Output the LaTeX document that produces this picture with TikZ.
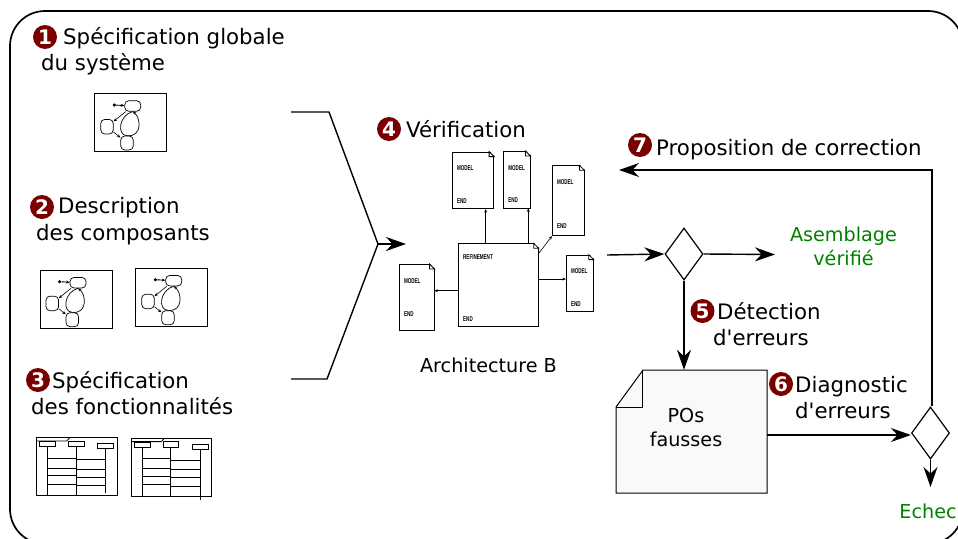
\documentclass[tikz,border=0pt]{standalone}
\usepackage{fontspec}
\setmainfont{DejaVu Sans}
\newfontfamily\tinyfont[FakeStretch=0.65]{Liberation Sans}
\usetikzlibrary{arrows.meta,shapes.geometric,fit}

\begin{document}
\begin{tikzpicture}[x=1pt,y=-1pt]
    % colours of the figure
    \definecolor{badgeRed}{RGB}{122,0,0}
    \definecolor{okGreen}{RGB}{0,128,0}
    \definecolor{paper}{RGB}{249,249,249}
    \tikzstyle{every node}=[font=\fontsize{19.2}{24}\selectfont, text=black]
    \tikzstyle{caption}=[anchor=base west, inner sep=0pt, font=\fontsize{21.3}{26}\selectfont]
    \tikzstyle{numdot}=[circle, fill=badgeRed, minimum size=24pt, inner sep=0pt, text=white, font=\fontsize{20}{20}\selectfont\bfseries]
    \tikzstyle{decision}=[diamond, draw, line width=1.2pt, fill=white, aspect=0.73, minimum width=38pt, minimum height=52pt, inner sep=0pt]
    \tikzstyle{flow}=[line width=1.4pt, -{Stealth[length=20pt,width=14pt]}]
    \tikzstyle{docpage}=[draw, line width=0.8pt, fill=white, inner sep=0pt]
    \tikzstyle{doctext}=[inner sep=0pt, anchor=west, font=\tinyfont\fontsize{7}{8}\selectfont\bfseries]
    \tikzstyle{docarrow}=[line width=0.6pt, -{Stealth[length=3.5pt,width=3pt]}]
    \tikzstyle{frameBox}=[draw, line width=1pt, inner sep=0pt, fill=white]
    \tikzstyle{state}=[draw, line width=0.7pt, rounded corners=4pt, inner sep=0pt]
    \tikzstyle{head}=[draw, line width=0.8pt, inner sep=0pt]

    \clip (0,0) rectangle (958,538);

    % outer frame
    \draw[line width=1.7pt, rounded corners=35pt] (10,11) rectangle (963,544);

    % numbered badges
    \foreach \n/\x/\y in {1/45/37,2/42/207,3/38/380,4/389/129,5/702.5/311,6/781/384,7/640/145}{
      \node[numdot] (num\n) at (\x,\y) {\n};
    }

    % step captions
    \node[caption] (globalA) at (63,44) {Spécification globale};
    \node[caption] (globalB) at (41,70) {du système};
    \node[caption] (compA) at (58,213) {Description};
    \node[caption] (compB) at (36,240) {des composants};
    \node[caption] (funcA) at (52,388) {Spécification};
    \node[caption] (funcB) at (31,414) {des fonctionnalités};
    \node[caption] (verif) at (406,137.5) {Vérification};
    \node[caption] (propo) at (656,155) {Proposition de correction};
    \node[caption] (detA) at (717,319) {Détection};
    \node[caption] (detB) at (713,345) {d\textquotesingle erreurs};
    \node[caption] (diagA) at (795,392.5) {Diagnostic};
    \node[caption] (diagB) at (795,418.5) {d\textquotesingle erreurs};
    \node[inner sep=0pt] (archi) at (488.5,365) {Architecture B};
    \node[align=center, text=okGreen] (assembled) at (843.5,246) {Asemblage\\vérifié};
    \node[text=okGreen] (echec) at (928,511) {Echec};

    % small state charts
    \foreach \k/\bx/\by in {a/94.7/93.3,b/40/270,c/135.7/268}{
      \begin{scope}[shift={(\bx,\by)}]
        \node[frameBox, fit={(0,0) (72,58)}] (chart\k) {};
        \node[state, minimum width=16pt, minimum height=10.5pt] (top\k) at (38,12.7) {};
        \node[state, minimum width=12.5pt, minimum height=14.5pt] (left\k) at (12.3,33.4) {};
        \node[state, minimum width=12.5pt, minimum height=14pt] (low\k) at (32.3,49.7) {};
        \node[circle, fill, minimum size=3.5pt, inner sep=0pt] (init\k) at (19.6,11.7) {};
        \draw[docarrow, line width=0.9pt] (init\k) -- (top\k);
        \draw[docarrow] (top\k) -- (left\k);
        \draw[docarrow] (left\k) -- (low\k);
        \draw[docarrow, line width=0.7pt] (low\k.north) .. controls (48,44) and (46,24) .. (top\k.south);
        \draw[line width=0.7pt] (low\k.north) .. controls (22,42) and (24,22) .. (top\k.south);
      \end{scope}
    }

    % small sequence charts
    \foreach \k/\bx/\by/\last in {a/36.7/437.7/55,b/131.3/438.3/62}{
      \begin{scope}[shift={(\bx,\by)}]
        \node[frameBox, fit={(0,0) (80.5,58)}] (seq\k) {};
        \draw[line width=0.8pt] (0,3.3) -- (30,3.3) -- (33,0);
        \node[head, fill=white, minimum width=16pt, minimum height=4.6pt] (headA\k) at (11,6.3) {};
        \node[head, fill=white, minimum width=15.5pt, minimum height=5.6pt] (headB\k) at (39.5,6.3) {};
        \node[head, fill=white, minimum width=16pt, minimum height=5pt] (headC\k) at (69,8.5) {};
        \draw[line width=1pt] (headA\k) -- (headA\k |- 0,58);
        \draw[line width=1pt] (headB\k) -- (headB\k |- 0,58);
        \draw[line width=1pt] (headC\k) -- (headC\k |- 0,\last);
        \foreach \y in {20.6,30.6,38,46.3}{
          \draw[line width=0.9pt] (11,\y) -- (39.5,\y);
        }
        \foreach \y in {22,31.3,39.6,48}{
          \draw[line width=0.9pt] (39.5,\y) -- (69,\y);
        }
      \end{scope}
    }

    % B machines, with a folded corner
    \node[docpage, fit={(458.3,243.7) (538.3,326)}] (refine) {};
    \fill[white] ([xshift=-5pt,yshift=1pt]refine.north east) -- ([xshift=1pt,yshift=1pt]refine.north east) -- ([xshift=1pt,yshift=-5pt]refine.north east) -- cycle;
    \draw[docpage] ([xshift=-5pt]refine.north east) -- ([xshift=-5pt,yshift=-5pt]refine.north east) -- ([yshift=-5pt]refine.north east) -- cycle;
    \node[doctext] (refineTop) at (463,257) {REFINEMENT};
    \node[doctext] (refineEnd) at (463,319) {END};
    \foreach \n/\l/\t/\r/\b/\m/\e in {a/452.3/152/493.7/208.7/168/201,b/503.7/151.3/530/208/167.7/200.5,c/552.3/165.7/584/235.7/182/225.7,d/566.3/255/593.3/311.7/271/304,e/399.3/264.3/434/330/281/314}{
      \node[docpage, fit={(\l,\t) (\r,\b)}] (doc\n) {};
      \fill[white] ([xshift=-5pt,yshift=1pt]doc\n.north east) -- ([xshift=1pt,yshift=1pt]doc\n.north east) -- ([xshift=1pt,yshift=-5pt]doc\n.north east) -- cycle;
      \draw[docpage] ([xshift=-5pt]doc\n.north east) -- ([xshift=-5pt,yshift=-5pt]doc\n.north east) -- ([yshift=-5pt]doc\n.north east) -- cycle;
      \node[doctext] (model\n) at (\l+4.5,\m) {MODEL};
      \node[doctext] (end\n) at (\l+4.5,\e) {END};
    }
    \draw[docarrow] (refine.north -| 485.7,0) -- (doca.south -| 485.7,0);
    \draw[docarrow] (refine.north -| 528.3,0) -- (docb.south -| 528.3,0);
    \draw[docarrow] (539,253) -- (docc.south west);
    \draw[docarrow] (refine.east |- 0,279) -- (docd.west |- 0,279);
    \draw[docarrow] (refine.west |- 0,290.7) -- (doce.east |- 0,290.7);

    % merge of the three inputs
    \coordinate (inTop) at (291,112);
    \coordinate (kneeTop) at (329,112);
    \coordinate (merge) at (378,244);
    \coordinate (kneeLow) at (327,379);
    \coordinate (inLow) at (291,379);
    \coordinate (mergeOut) at (406,244);
    \draw[line width=1.4pt, line join=bevel] (inTop) -- (kneeTop) -- (merge) -- (kneeLow) -- (inLow);
    \draw[flow] (merge) -- (mergeOut);

    % proof obligations
    \node[fit={(616,370) (767,493)}, inner sep=0pt] (posBox) {};
    \draw[line width=1pt, fill=paper] (643,370) -- (767,370) -- (767,493) -- (616,493) -- (616,407) -- cycle;
    \draw[line width=1pt] (616,407) -- (642,407) -- (642,370);
    \node[align=center] (posText) at (686,428) {POs\\fausses};

    % decisions and flows
    \node[decision] (checkOne) at (684,254) {};
    \node[decision] (checkTwo) at (930.5,433) {};
    \coordinate (archOut) at (607,255);
    \coordinate (okIn) at (775,254.5);
    \coordinate (failIn) at (930.5,487);
    \coordinate (propIn) at (619,170);
    \coordinate (propKnee) at (932,170);
    \draw[flow] (archOut) -- (checkOne.west);
    \draw[flow] (checkOne.east) -- (okIn);
    \draw[flow] (checkOne.south) -- (checkOne.south |- posBox.north);
    \draw[flow] ([yshift=-3.5pt]posBox.east) -- ([yshift=-2pt]checkTwo.west);
    \draw[flow] (checkTwo.south) -- (failIn);
    \draw[flow] (checkTwo.north -| propKnee) -- (propKnee) -- (propIn);

  \end{tikzpicture}
\end{document}
